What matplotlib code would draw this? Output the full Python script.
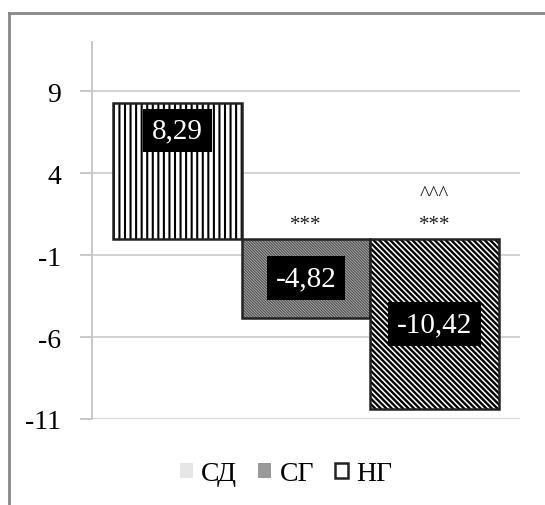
import matplotlib
matplotlib.use('Agg')
import matplotlib.pyplot as plt
from matplotlib.lines import Line2D
from matplotlib.patches import Patch

# Dados
grupos = ['СД', 'СГ', 'НГ']
valores = [8.29, -4.82, -10.42]
rotulos = ['8,29', '-4,82', '-10,42']
marcas = ['', '***', '***']
marcas_sup = ['', '', '^^^']
yticks = [-11, -6, -1, 4, 9]

plt.rcParams['font.family'] = ['Liberation Serif', 'DejaVu Serif']
plt.rcParams['hatch.linewidth'] = 1.6

W, H = 545, 506
fig = plt.figure(figsize=(W / 100, H / 100), dpi=100)
ax = fig.add_axes([92 / W, 1 - 420 / H, (520 - 92) / W, (420 - 43) / H])

estilos = [
    dict(facecolor='white', hatch='|||', edgecolor='black'),
    dict(facecolor='#bdbdbd', hatch='\\' * 12, edgecolor='#505050'),
    dict(facecolor='white', hatch='\\' * 6, edgecolor='black'),
]
larg_hatch = [1.5, 0.9, 1.7]

x = list(range(len(grupos)))
for i, v in enumerate(valores):
    b = ax.bar(x[i], v, width=1.0, linewidth=0, **estilos[i])
    for p in b:
        if hasattr(p, 'set_hatch_linewidth'):
            p.set_hatch_linewidth(larg_hatch[i])
    ax.bar(x[i], v, width=1.0, fill=False, edgecolor='#222222', linewidth=1.8)

# Rótulos de dados
pos_rotulo = [6.6, valores[1] / 2, valores[2] / 2]
for i, t in enumerate(rotulos):
    ax.text(x[i], pos_rotulo[i], t, color='white', fontsize=21,
            ha='center', va='center',
            bbox=dict(boxstyle='square,pad=0.3', facecolor='black',
                      edgecolor='none'))

for i in range(len(grupos)):
    if marcas[i]:
        ax.text(x[i], 0.85, marcas[i], fontsize=15, ha='center',
                va='center', color='#222222')
    if marcas_sup[i]:
        ax.text(x[i], 2.7, marcas_sup[i], fontsize=15, ha='center',
                va='center', color='#222222')

ax.set_xlim(-0.665, 2.665)
ax.set_ylim(-11, 12)
ax.set_yticks(yticks)
ax.set_yticklabels([str(t) for t in yticks], fontsize=20)
ax.set_xticks([])
ax.yaxis.grid(True, color='#d2d2d2', linewidth=1.4)
ax.set_axisbelow(True)
for s in ['top', 'right', 'bottom']:
    ax.spines[s].set_visible(False)
ax.spines['left'].set_color('#c8c8c8')
ax.spines['left'].set_linewidth(1.4)
ax.tick_params(axis='y', length=9, width=1.4, color='#c8c8c8', pad=13)

# Legenda
handles = [
    Patch(facecolor='#e6e6e6', edgecolor='none'),
    Patch(facecolor='#999999', edgecolor='none'),
    Patch(facecolor='white', edgecolor='#222222', linewidth=1.8),
]
fig.legend(handles, grupos, loc='center', bbox_to_anchor=(286 / W, 1 - 475 / H),
           ncol=3, frameon=False, fontsize=20, handlelength=0.47,
           handleheight=0.47, handletextpad=0.3, columnspacing=0.75)

# Moldura
fig.add_artist(Line2D([9 / W, 9 / W], [0, 1 - 14 / H], color='#888888',
                      linewidth=2, transform=fig.transFigure))
fig.add_artist(Line2D([9 / W, 1], [1 - 14 / H, 1 - 14 / H], color='#888888',
                      linewidth=2, transform=fig.transFigure))

fig.savefig('out.png', dpi=100)
